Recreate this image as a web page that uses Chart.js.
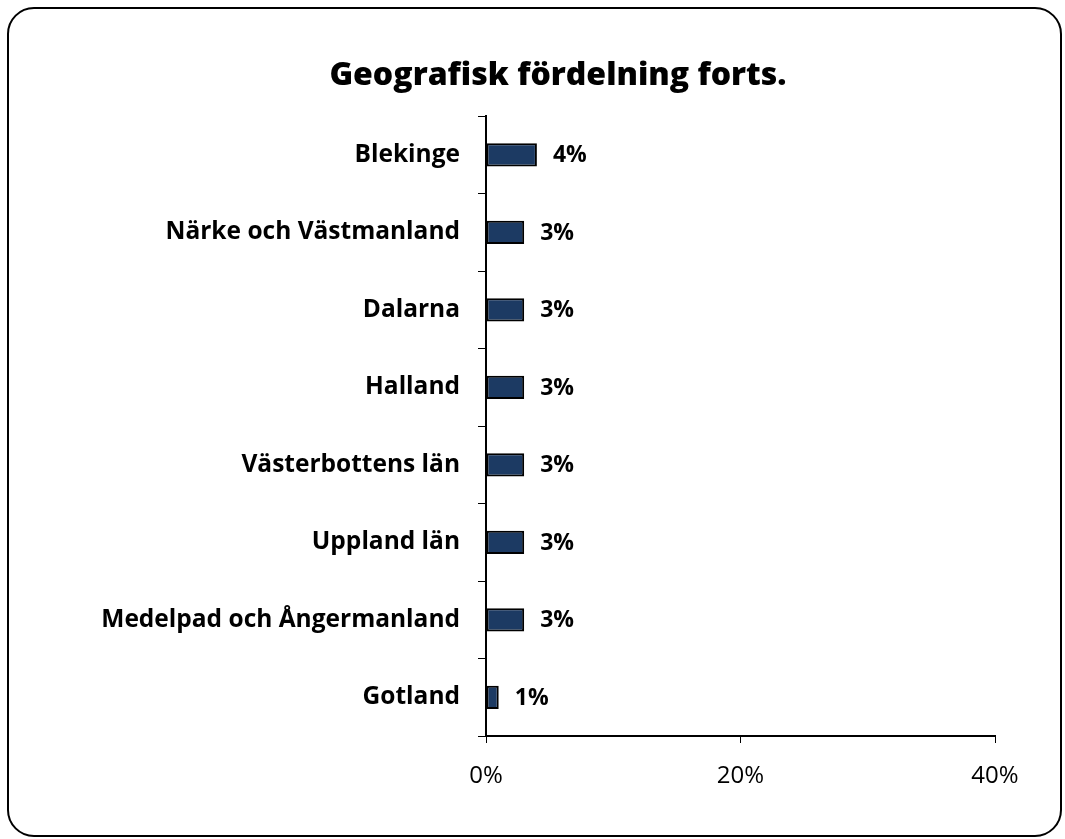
<!DOCTYPE html>
<html>
<head>
<meta charset="utf-8">
<script src="https://cdn.jsdelivr.net/npm/chart.js@4"></script>
<style>
  html, body { margin: 0; padding: 0; background: #fff; }
  #wrap { width: 1065px; height: 839px; }
</style>
</head>
<body>
<div id="wrap"><canvas id="chart" width="1065" height="839"></canvas></div>
<script>
// Regions and their share (%)
const regions = ['Blekinge', 'Närke och Västmanland', 'Dalarna', 'Halland',
    'Västerbottens län', 'Uppland län', 'Medelpad och Ångermanland', 'Gotland'];
const shares = [4, 3, 3, 3, 3, 3, 3, 1];
const shareLabels = ['4%', '3%', '3%', '3%', '3%', '3%', '3%', '1%'];
const xTicks = [0, 20, 40];
const chartTitle = 'Geografisk fördelning forts.';

const FONT = '"Open Sans", "Liberation Sans", sans-serif';

// rounded frame and title
const framePlugin = {
    id: 'frame',
    beforeDraw: (chart) => {
        const c = chart.ctx;
        c.save();
        c.fillStyle = '#ffffff';
        c.fillRect(0, 0, chart.width, chart.height);
        c.beginPath();
        c.roundRect(8, 8, 1053, 828, 26);
        c.lineWidth = 2;
        c.strokeStyle = '#000000';
        c.stroke();

        c.font = '800 32px ' + FONT;
        c.fillStyle = '#000000';
        c.textAlign = 'center';
        c.textBaseline = 'middle';
        c.fillText(chartTitle, 558, 76);
        c.restore();
    }
};

// value labels to the right of each bar
const valueLabels = {
    id: 'valueLabels',
    afterDatasetsDraw: (chart) => {
        const c = chart.ctx;
        const meta = chart.getDatasetMeta(0);
        c.save();
        c.font = 'bold 23px ' + FONT;
        c.fillStyle = '#000000';
        c.textAlign = 'left';
        c.textBaseline = 'middle';
        meta.data.forEach((bar, i) => {
            c.fillText(shareLabels[i], bar.x + 16, bar.y + 1);
        });
        c.restore();
    }
};

new Chart(document.getElementById('chart'), {
    type: 'bar',
    data: {
        labels: regions,
        datasets: [{
            data: shares,
            backgroundColor: '#1c3a63',
            borderColor: '#000000',
            borderWidth: 2,
            borderSkipped: false,
            categoryPercentage: 1,
            barPercentage: 0.3
        }]
    },
    plugins: [framePlugin, valueLabels],
    options: {
        indexAxis: 'y',
        responsive: false,
        animation: false,
        layout: { padding: { left: 0, right: 70, top: 116, bottom: 0 } },
        plugins: {
            legend: { display: false },
            tooltip: { enabled: false },
            title: { display: false }
        },
        scales: {
            x: {
                min: 0,
                max: 40,
                afterBuildTicks: (scale) => {
                    scale.ticks = xTicks.map(v => ({ value: v }));
                },
                afterFit: (scale) => { scale.height = 103; },
                border: { display: true, color: '#000000', width: 2 },
                grid: {
                    drawOnChartArea: false,
                    drawTicks: true,
                    tickLength: 7,
                    color: '#000000',
                    lineWidth: 1
                },
                ticks: {
                    color: '#000000',
                    font: { family: FONT, size: 24 },
                    padding: 19,
                    maxRotation: 0,
                    callback: (v) => v + '%'
                }
            },
            y: {
                afterFit: (scale) => { scale.width = 486; },
                border: { display: true, color: '#000000', width: 2 },
                grid: {
                    offset: true,
                    drawOnChartArea: false,
                    drawTicks: true,
                    tickLength: 8,
                    color: '#000000',
                    lineWidth: 1
                },
                ticks: {
                    color: '#000000',
                    font: { family: FONT, size: 24.5, weight: 'bold' },
                    padding: 18
                }
            }
        }
    }
});
</script>
</body>
</html>
